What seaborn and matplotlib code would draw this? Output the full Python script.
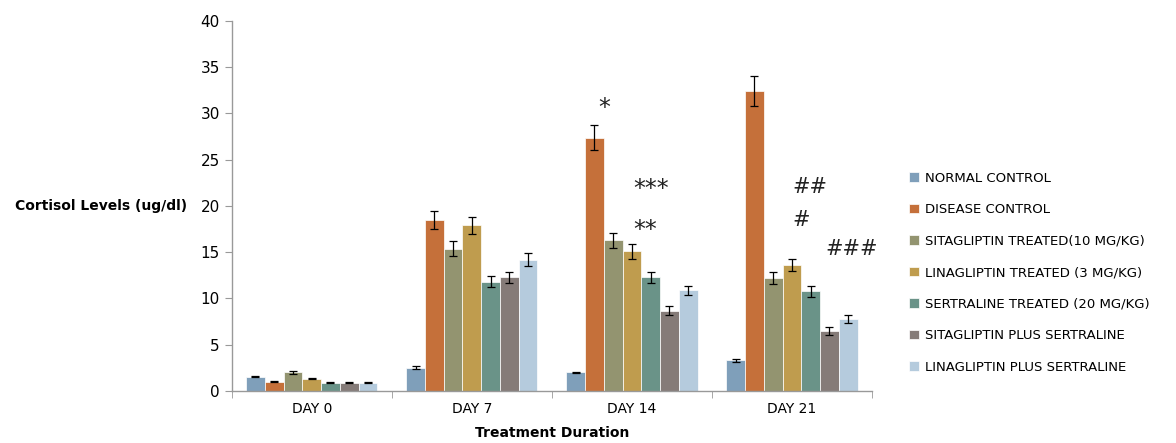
import matplotlib.pyplot as plt
import seaborn as sns
import pandas as pd
import numpy as np

dias = ["DAY 0", "DAY 7", "DAY 14", "DAY 21"]
grupos = [
    "NORMAL CONTROL",
    "DISEASE CONTROL",
    "SITAGLIPTIN TREATED(10 MG/KG)",
    "LINAGLIPTIN TREATED (3 MG/KG)",
    "SERTRALINE TREATED (20 MG/KG)",
    "SITAGLIPTIN PLUS SERTRALINE",
    "LINAGLIPTIN PLUS SERTRALINE",
]
colores = ["#7F9FBA", "#C5703A", "#939470", "#BF9C4E", "#6A9388", "#857B78", "#B5CBDD"]

# valores por grupo (DAY 0, 7, 14, 21)
normal = [1.55, 2.5, 2.0, 3.3]
disease = [1.0, 18.5, 27.4, 32.4]
sita = [2.0, 15.4, 16.3, 12.2]
lina = [1.35, 17.9, 15.1, 13.6]
sert = [0.9, 11.8, 12.3, 10.8]
sita_sert = [0.9, 12.3, 8.7, 6.5]
lina_sert = [0.9, 14.2, 10.9, 7.8]

# error estandar
err_normal = [0.08, 0.15, 0.1, 0.15]
err_disease = [0.06, 1.0, 1.4, 1.6]
err_sita = [0.12, 0.8, 0.8, 0.65]
err_lina = [0.1, 0.9, 0.8, 0.65]
err_sert = [0.06, 0.6, 0.6, 0.6]
err_sita_sert = [0.06, 0.6, 0.45, 0.4]
err_lina_sert = [0.06, 0.7, 0.5, 0.4]

valores = [normal, disease, sita, lina, sert, sita_sert, lina_sert]
errores = [err_normal, err_disease, err_sita, err_lina, err_sert, err_sita_sert, err_lina_sert]

# anotaciones de significancia (texto, x, y)
marcas = ["*", "***", "**", "##", "#", "###"]
marcas_x = [1.83, 2.12, 2.08, 3.11, 3.06, 3.37]
marcas_y = [30.6, 21.8, 17.4, 22.0, 18.5, 15.4]

filas = []
for g, vals in zip(grupos, valores):
    for d, v in zip(dias, vals):
        filas.append({"dia": d, "grupo": g, "valor": v})
df = pd.DataFrame(filas)

sns.set_style("white")
plt.rcParams["font.family"] = ["DejaVu Sans"]

fig = plt.figure(figsize=(11.76, 4.43), dpi=100)
ax = fig.add_axes([0.197, 0.1174, 0.5445, 0.8352])

sns.barplot(data=df, x="dia", y="valor", hue="grupo", hue_order=grupos,
            order=dias, palette=colores, saturation=1, width=0.82, errorbar=None,
            edgecolor="white", linewidth=0.5, ax=ax)

for cont, errs in zip(ax.containers, errores):
    xs = [b.get_x() + b.get_width() / 2 for b in cont]
    ys = [b.get_height() for b in cont]
    ax.errorbar(xs, ys, yerr=errs, fmt="none", ecolor="black",
                elinewidth=0.9, capsize=3, capthick=0.9)

for t, x, y in zip(marcas, marcas_x, marcas_y):
    fs = 17 if "*" in t else 15
    ax.text(x, y, t, ha="center", va="center", fontsize=fs, color="#222222")

ax.set_ylim(0, 40)
ax.set_xlim(-0.5, 3.5)
ax.set_yticks(np.arange(0, 41, 5))
ax.tick_params(axis="y", labelsize=11, length=5, color="#999999", direction="out",
               left=True, labelcolor="black")
ax.tick_params(axis="x", which="major", length=0, labelsize=10, pad=8, labelcolor="black")
ax.set_xticks([-0.5, 0.5, 1.5, 2.5, 3.5], minor=True)
ax.tick_params(axis="x", which="minor", length=5, color="#999999", direction="out", bottom=True)

for s in ["top", "right"]:
    ax.spines[s].set_visible(False)
for s in ["left", "bottom"]:
    ax.spines[s].set_color("#999999")
    ax.spines[s].set_linewidth(1)

ax.set_ylabel("Cortisol Levels (ug/dl)", rotation=0, fontsize=10, fontweight="bold",
              ha="right", va="center", color="black")
ax.yaxis.set_label_coords(-0.07, 0.5)
ax.set_xlabel("Treatment Duration", fontsize=10, fontweight="bold", labelpad=7,
              color="black")

ax.legend(loc="center left", bbox_to_anchor=(1.04, 0.32), frameon=False,
          fontsize=9.5, handlelength=0.7, handleheight=0.7, handletextpad=0.5,
          labelspacing=1.4, labelcolor="black")

fig.savefig("out.png", dpi=100)
